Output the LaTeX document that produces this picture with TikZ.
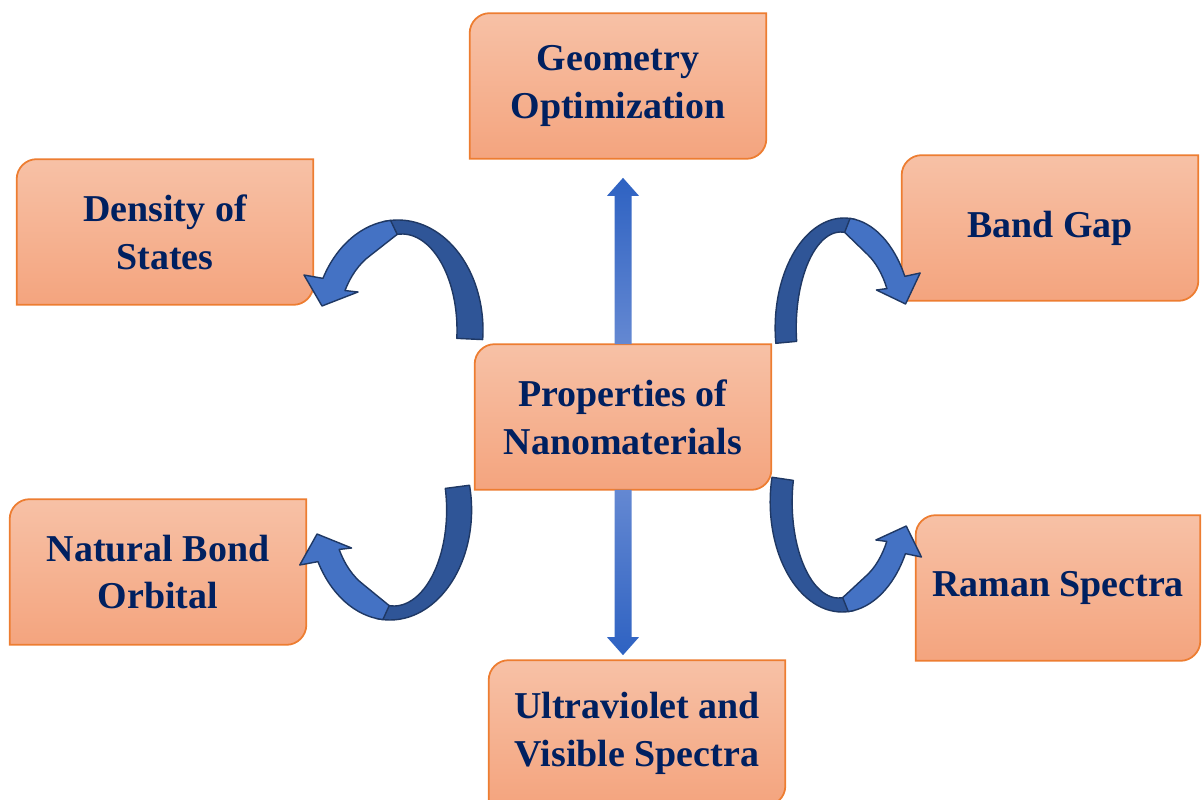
\documentclass[tikz,border=0pt]{standalone}
\usepackage{fontspec}
\setmainfont{Liberation Serif}
\usepackage{tikz}
\usetikzlibrary{calc}
\usetikzlibrary{backgrounds}
\definecolor{boxtop}{RGB}{247,193,166}
\definecolor{boxbot}{RGB}{244,164,126}
\definecolor{boxline}{RGB}{237,125,49}
\definecolor{textblue}{RGB}{0,32,96}
\definecolor{ribfront}{RGB}{68,114,196}
\definecolor{ribback}{RGB}{47,85,151}
\definecolor{ribline}{RGB}{31,56,100}
\definecolor{shaftdark}{RGB}{46,98,194}
\definecolor{shaftlight}{RGB}{100,136,210}

% two-tone curved arrow: centre (#1,#2), scales #3 #4, start angle #5 of the back band
\newcommand{\bentarrow}[5]{%
  \begin{scope}[shift={(#1,#2)},xscale=#3,yscale=#4]
    \filldraw[ribbon,fill=ribback]
      (#5:85 and 110) arc[start angle=#5,end angle=-100,x radius=85,y radius=110]
      -- ($(4,0)+(-100:55 and 96)$) arc[start angle=-100,end angle=#5,x radius=55,y radius=96] -- cycle;
    \filldraw[ribbon,fill=ribfront]
      (-95:85 and 110) arc[start angle=-95,end angle=-152,x radius=85,y radius=110]
      -- (-94,-55) -- (-76,-24) -- (-40,-38)
      -- (-152:60 and 84) arc[start angle=-152,end angle=-118,x radius=60,y radius=84]
      -- ($(4,0)+(-95:55 and 96)$) -- cycle;
  \end{scope}}

\begin{document}
\begin{tikzpicture}[x=0.02cm,y=-0.02cm,
	topic/.style={minimum width=5.92cm,minimum height=2.9cm,align=center,text=textblue,
		font=\fontsize{21.6}{27.3}\selectfont\bfseries},
	topicframe/.style={top color=boxtop,bottom color=boxbot,draw=boxline,line width=1pt},
	ribbon/.style={draw=ribline,line width=0.8pt,line join=round}]
	\useasboundingbox (0,0) rectangle (1202,800);

	\node[topic] (prop) at (623,417) {Properties of\\Nanomaterials};
	\node[topic] (geo) at (618,86) {Geometry\\Optimization};
	\node[topic] (dos) at (165,232) {Density of\\States};
	\node[topic] (gap) at (1050,228) {Band Gap};
	\node[topic] (nbo) at (158,572) {Natural Bond\\Orbital};
	\node[topic,minimum width=5.68cm] (raman) at (1058,588) {Raman Spectra};
	\node[topic] (uv) at (637,733) {Ultraviolet and\\Visible Spectra};

	% boxes with two rounded corners
	\begin{scope}[on background layer]
		\foreach \n in {prop,geo,dos,gap,nbo,raman,uv}
			\shadedraw[topicframe] (\n.west) [rounded corners=0.4cm] -- (\n.north west) -- (\n.north)
				[sharp corners] -- (\n.north east) -- (\n.east)
				[rounded corners=0.4cm] -- (\n.south east) -- (\n.south)
				[sharp corners] -- (\n.south west) -- cycle;
	\end{scope}

	% straight arrows
	\coordinate (uptip) at ($(prop.north |- geo.south)+(0,19)$);
	\coordinate (downtip) at ($(prop.south |- uv.north)+(0,-5)$);
	\shade[top color=shaftdark,bottom color=shaftlight]
		($(prop.north)+(-8.5,0)$) -- ($(uptip)+(-8.5,18)$) -- ($(uptip)+(-16,18)$) -- (uptip)
		-- ($(uptip)+(16,18)$) -- ($(uptip)+(8.5,18)$) -- ($(prop.north)+(8.5,0)$) -- cycle;
	\shade[top color=shaftlight,bottom color=shaftdark]
		($(prop.south)+(-8.5,0)$) -- ($(downtip)+(-8.5,-18)$) -- ($(downtip)+(-16,-18)$) -- (downtip)
		-- ($(downtip)+(16,-18)$) -- ($(downtip)+(8.5,-18)$) -- ($(prop.south)+(8.5,0)$) -- cycle;

	% curved arrows
	\bentarrow{398}{330}{1}{1}{5}
	\bentarrow{844}{328}{-0.81}{1}{8}
	\bentarrow{390}{510}{0.96}{-1}{13}
	\bentarrow{842}{502}{-0.845}{-1}{13}
\end{tikzpicture}
\end{document}
